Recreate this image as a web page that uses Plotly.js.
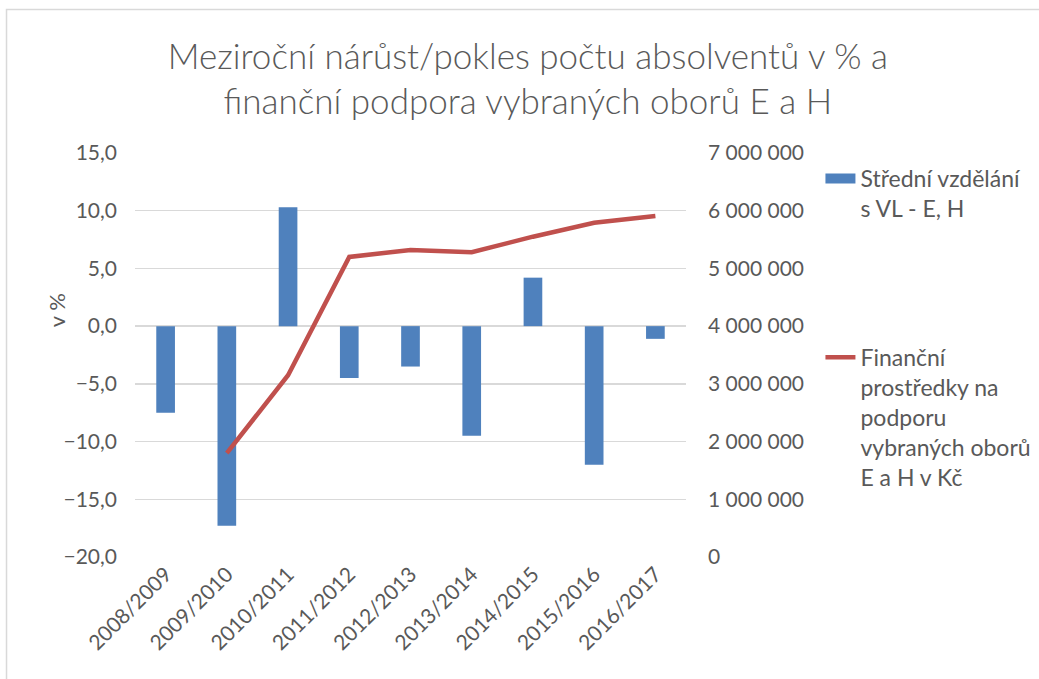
<!DOCTYPE html>
<html>
<head>
<meta charset="utf-8">
<script src="https://cdn.plot.ly/plotly-3.0.1.min.js"></script>
<style>html,body{margin:0;padding:0;background:#fff;}#chart{width:1039px;height:679px;}</style>
</head>
<body>
<div id="chart"></div>
<script>
const categories = ["2008/2009","2009/2010","2010/2011","2011/2012","2012/2013","2013/2014","2014/2015","2015/2016","2016/2017"];
const graduatesChange = [-7.5, -17.3, 10.3, -4.5, -3.5, -9.5, 4.2, -12.0, -1.1];
const funding = [null, 1800000, 3150000, 5200000, 5320000, 5280000, 5550000, 5790000, 5910000];
const barName = "Střední vzdělání<br>s VL - E, H";
const lineName = "Finanční<br>prostředky na<br>podporu<br>vybraných oborů<br>E a H v Kč";
const titleText = "Meziroční nárůst/pokles počtu absolventů v % a<br>finanční podpora vybraných oborů E a H";
const yTitle = "v %";

const FONT = "Lato, 'Open Sans', sans-serif";
const GRAY = "#595959";
const BLUE = "#4F81BD";
const RED = "#C0504D";

const traces = [
  {type:"bar", x:categories, y:graduatesChange, name:barName, marker:{color:BLUE}, yaxis:"y", showlegend:false, hoverinfo:"skip"},
  // legend swatch for the bar series (wide rectangle like the original legend key)
  {type:"scatter", mode:"lines", x:categories, y:categories.map(() => null), name:barName, line:{color:BLUE, width:12}, yaxis:"y", legendgroup:"a", showlegend:true},
  {type:"scatter", mode:"lines", x:categories, y:funding, name:lineName, line:{color:RED, width:4.5}, yaxis:"y2", legendgroup:"b", connectgaps:false}
];

const layout = {
  width:1039, height:679,
  margin:{l:135, r:353, t:153, b:122, autoexpand:false},
  paper_bgcolor:"#fff", plot_bgcolor:"#fff",
  separators:", ",
  font:{family:FONT, color:GRAY, size:21},
  title:{text:titleText, x:0.508, xref:"container", xanchor:"center", y:0.899, yref:"container", yanchor:"middle", font:{family:FONT, size:35, color:GRAY, weight:300}},
  bargap:0.695,
  showlegend:true,
  legend:{x:1.244, xanchor:"left", y:0.99, yanchor:"top", valign:"top", tracegroupgap:116, font:{family:FONT, size:23, color:GRAY}, bgcolor:"rgba(0,0,0,0)"},
  xaxis:{type:"category", tickangle:-45, showgrid:false, showline:false, ticks:"", tickfont:{family:FONT, size:21, color:GRAY}},
  yaxis:{range:[-20,15], dtick:5, tickformat:".1f", gridcolor:"#D9D9D9", gridwidth:1.3, zeroline:true, zerolinecolor:"#D9D9D9", zerolinewidth:1.3, showline:false, ticks:"", ticklabelstandoff:17,
         tickfont:{family:FONT, size:21, color:GRAY}},
  yaxis2:{range:[0,7000000], dtick:1000000, tickformat:",d", overlaying:"y", side:"right", showgrid:false, zeroline:false, showline:false, ticks:"", ticklabelstandoff:21,
          tickfont:{family:FONT, size:21, color:GRAY}},
  annotations:[{text:yTitle, xref:"paper", yref:"paper", x:-0.1434, y:0.611, xanchor:"center", yanchor:"middle", textangle:-90, showarrow:false, font:{family:FONT, size:22, color:GRAY}}],
  shapes:[{type:"rect", xref:"paper", yref:"paper", x0:-0.2332, x1:1.66, y0:-0.34, y1:1.3552, line:{color:"#D9D9D9", width:1.5}}]
};

Plotly.newPlot("chart", traces, layout, {displayModeBar:false, staticPlot:true});
</script>
</body>
</html>
